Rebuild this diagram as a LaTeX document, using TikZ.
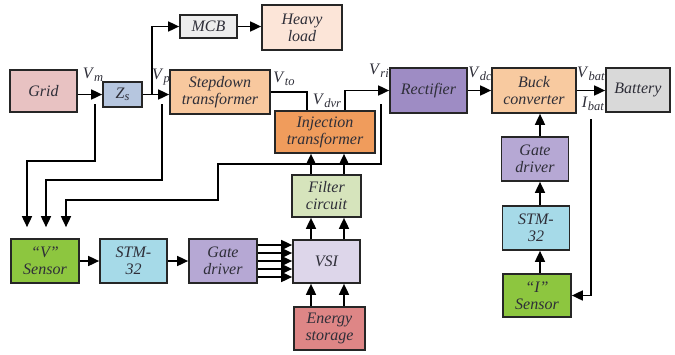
\documentclass[tikz,border=0pt]{standalone}
\usepackage{fontspec}
\setmainfont{Liberation Serif}
\usetikzlibrary{arrows.meta}
\definecolor{cGrid}{HTML}{E8C2C2}
\definecolor{cZs}{HTML}{B6C6DF}
\definecolor{cStep}{HTML}{F8C89E}
\definecolor{cMcb}{HTML}{EDEDED}
\definecolor{cHeavy}{HTML}{FCE5D8}
\definecolor{cInj}{HTML}{F09C5C}
\definecolor{cFilt}{HTML}{D6E4BC}
\definecolor{cVsi}{HTML}{DDD6EA}
\definecolor{cEnergy}{HTML}{DE8686}
\definecolor{cSens}{HTML}{8DC63F}
\definecolor{cStm}{HTML}{A6DAE8}
\definecolor{cGate}{HTML}{B6A8D4}
\definecolor{cRect}{HTML}{9E8CC4}
\definecolor{cBuck}{HTML}{F8CAA0}
\definecolor{cBat}{HTML}{D9D9D9}
\definecolor{cText}{HTML}{2E2E38}
\newcommand{\sv}[2]{\textit{#1}\raisebox{-0.35ex}{\fontsize{12.5}{12.5}\selectfont\textit{#2}}}
\tikzset{
  box/.style={draw=black!85, line width=1.7pt, align=center, font=\fontsize{16}{17}\selectfont\itshape, text=cText, inner sep=1pt},
  arr/.style={line width=1.7pt, -{Triangle[length=11pt,width=10pt]}},
  ln/.style={line width=1.7pt},
  lab/.style={font=\fontsize{16}{17}\selectfont, text=cText, inner sep=0pt}
}
\begin{document}
\begin{tikzpicture}[x=1pt,y=-1pt]
\useasboundingbox (0,0) rectangle (675,354);
% boxes
\node[box, fill=cGrid, minimum width=67pt, minimum height=42pt] (grid) at (43.5,91) {Grid};
\node[box, fill=cZs, minimum width=39pt, minimum height=25pt] (zs) at (122.5,94.5) {\sv{Z}{s}};
\node[box, fill=cStep, minimum width=100pt, minimum height=44pt] (step) at (220,92) {Stepdown\\transformer};
\node[box, fill=cMcb, minimum width=57pt, minimum height=23pt] (mcb) at (208.5,26.5) {MCB};
\node[box, fill=cHeavy, minimum width=80pt, minimum height=45pt] (heavy) at (302,27.5) {Heavy\\load};
\node[box, fill=cInj, minimum width=100pt, minimum height=42pt] (inj) at (325,132) {Injection\\transformer};
\node[box, fill=cFilt, minimum width=69pt, minimum height=42pt] (filt) at (326.5,196) {Filter\\circuit};
\node[box, fill=cVsi, minimum width=67pt, minimum height=43pt] (vsi) at (326.5,261.5) {VSI};
\node[box, fill=cEnergy, minimum width=71pt, minimum height=43pt] (energy) at (329.5,328.5) {Energy\\storage};
\node[box, fill=cSens, minimum width=68pt, minimum height=44pt] (vsen) at (45,261) {``V''\\Sensor};
\node[box, fill=cStm, minimum width=67pt, minimum height=44pt] (stm1) at (133.5,261) {STM-\\32};
\node[box, fill=cGate, minimum width=68pt, minimum height=44pt] (gate1) at (223,261) {Gate\\driver};
\node[box, fill=cRect, minimum width=77pt, minimum height=45pt] (rect) at (428.5,90.5) {Rectifier};
\node[box, fill=cBuck, minimum width=84pt, minimum height=45pt] (buck) at (534,90.5) {Buck\\converter};
\node[box, fill=cBat, minimum width=64pt, minimum height=44pt] (bat) at (638,90) {Battery};
\node[box, fill=cGate, minimum width=67pt, minimum height=44pt] (gate2) at (535,159) {Gate\\driver};
\node[box, fill=cStm, minimum width=67pt, minimum height=44pt] (stm2) at (536,228) {STM-\\32};
\node[box, fill=cSens, minimum width=68pt, minimum height=43pt] (isen) at (537,295.5) {``I''\\Sensor};
% labels
\node[lab] (lvm) at (93,75) {\sv{V}{m}};
\node[lab] (lvp) at (161,77) {\sv{V}{p}};
\node[lab] (lvto) at (284,79) {\sv{V}{to}};
\node[lab] (lvdvr) at (327,101) {\sv{V}{dvr}};
\node[lab] (lvri) at (379,71) {\sv{V}{ri}};
\node[lab] (lvdc) at (480,74) {\sv{V}{dc}};
\node[lab] (lvbat) at (591,74) {\sv{V}{bat}};
\node[lab] (libat) at (593,104) {\sv{I}{bat}};
% coordinates
\coordinate (br) at (152,94.5);
\coordinate (fa) at (381,104);
\coordinate (f1) at (218,164);
\coordinate (f2) at (66,200);
\coordinate (ga) at (95,104);
\coordinate (g1) at (27,161);
\coordinate (ha) at (162,104);
\coordinate (h1) at (46,180);
\coordinate (xl) at (311,0);
\coordinate (xr) at (344,0);
\coordinate (ib) at (591,119);
\coordinate (rc) at (540,0);
% connectors
\draw[arr] (grid.east |- zs.west) -- (zs.west);
\draw[arr] (zs.east) -- (zs.east -| step.west);
\draw[arr] (br) |- (mcb.west);
\draw[arr] (mcb.east) -- (mcb.east -| heavy.west);
\draw[ln] (step.east) -| ([xshift=-18pt]inj.north);
\draw[arr] ([xshift=20pt]inj.north) |- (rect.west);
\draw[arr, shorten >=11pt] (fa) |- (f1) |- (f2) -- (vsen.north -| f2);
\draw[arr, shorten >=11pt] (ga) |- (g1) -- (vsen.north -| g1);
\draw[arr, shorten >=11pt] (ha) |- (h1) -- (vsen.north -| h1);
\draw[arr] (vsen.east) -- (stm1.west);
\draw[arr] (stm1.east) -- (gate1.west);
\foreach \d in {-16,-8,0,8,16}
  \draw[arr] ([yshift=\d pt]gate1.east) -- ([yshift=\d pt]gate1.east -| vsi.west);
\draw[arr] (vsi.north -| xl) -- (filt.south -| xl);
\draw[arr] (vsi.north -| xr) -- (filt.south -| xr);
\draw[arr] (energy.north -| xl) -- (vsi.south -| xl);
\draw[arr] (energy.north -| xr) -- (vsi.south -| xr);
\draw[arr] (filt.north -| xl) -- (inj.south -| xl);
\draw[arr] (filt.north -| xr) -- (inj.south -| xr);
\draw[arr] (rect.east) -- (buck.west);
\draw[arr] (buck.east) -- (buck.east -| bat.west);
\draw[arr] (ib) |- (isen.east);
\draw[arr] (gate2.north -| rc) -- (buck.south -| rc);
\draw[arr] (stm2.north -| rc) -- (gate2.south -| rc);
\draw[arr] (isen.north -| rc) -- (stm2.south -| rc);
\end{tikzpicture}
\end{document}
